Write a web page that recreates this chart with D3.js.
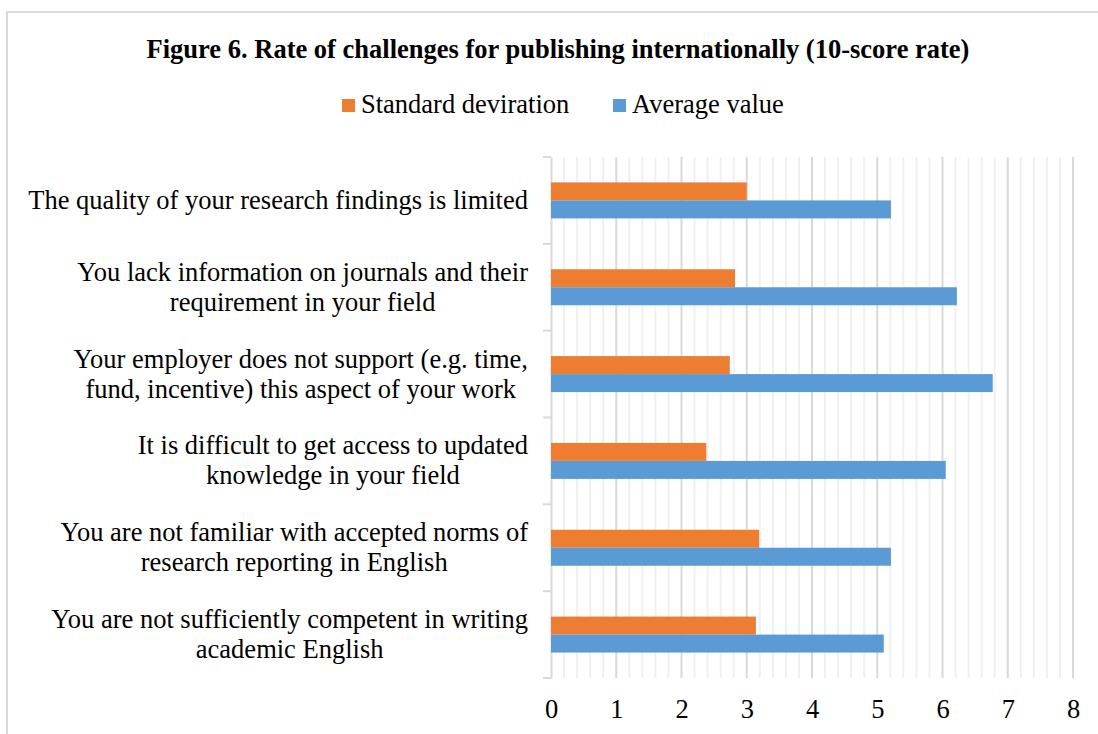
<!DOCTYPE html>
<html>
<head>
<meta charset="utf-8">
<script src="https://cdn.jsdelivr.net/npm/d3@7"></script>
<style>
  html, body { margin: 0; padding: 0; background: #fff; }
  svg { display: block; }
  text { font-family: "Liberation Serif", "Times New Roman", serif; fill: #000; }
</style>
</head>
<body>
<svg id="chart" width="1098" height="734"></svg>
<script>
// ---- Data ----
const categories = [
  ["The quality of your research findings is limited"],
  ["You lack information on journals and their", "requirement in your field"],
  ["Your employer does not support (e.g. time,", "fund, incentive) this aspect of your work"],
  ["It is difficult to get access to updated", "knowledge in your field"],
  ["You are not familiar with accepted norms of", "research reporting in English"],
  ["You are not sufficiently competent in writing", "academic English"]
];
const standardDeviation = [3.00, 2.82, 2.74, 2.38, 3.19, 3.14];
const averageValue = [5.21, 6.22, 6.77, 6.05, 5.21, 5.10];
const seriesNames = ["Standard deviration", "Average value"];
const xTicks = [0, 1, 2, 3, 4, 5, 6, 7, 8];
const titleText = "Figure 6. Rate of challenges for publishing internationally (10-score rate)";

// ---- Layout ----
const svg = d3.select("#chart");
const colors = ["#ED7D31", "#5B9BD5"];
const plot = { left: 551, right: 1073, top: 157, bottom: 678 };
const fs = 26.5;

// Chart frame
svg.append("rect")
  .attr("x", 7).attr("y", 12)
  .attr("width", 1200).attr("height", 800)
  .attr("fill", "none").attr("stroke", "#d9d9d9").attr("stroke-width", 2);

// Title
svg.append("text")
  .attr("x", 558).attr("y", 58)
  .attr("text-anchor", "middle")
  .attr("font-weight", "bold")
  .attr("font-size", fs)
  .text(titleText);

// Scales
const x = d3.scaleLinear().domain([0, 8]).range([plot.left, plot.right]);
const idx = d3.range(categories.length);
const y = d3.scaleBand().domain(idx).range([plot.top, plot.bottom]).padding(0);
const barH = 18;

// Gridlines (minor every 0.2, major every 1)
const minor = d3.range(0, 8.0001, 0.2).filter(v => Math.abs(v - Math.round(v)) > 1e-6);
svg.append("g").selectAll("line").data(minor).join("line")
  .attr("x1", d => x(d)).attr("x2", d => x(d))
  .attr("y1", plot.top).attr("y2", plot.bottom)
  .attr("stroke", "#f0f0f0").attr("stroke-width", 2);
svg.append("g").selectAll("line").data(xTicks.slice(1)).join("line")
  .attr("x1", d => x(d)).attr("x2", d => x(d))
  .attr("y1", plot.top).attr("y2", plot.bottom)
  .attr("stroke", "#d9d9d9").attr("stroke-width", 2);

// Category axis line and ticks
const yAxis = d3.axisLeft(y).tickSize(0).tickFormat("");
const gy = svg.append("g").attr("transform", `translate(${plot.left},0)`).call(yAxis);
gy.select(".domain").attr("stroke", "#d9d9d9").attr("stroke-width", 2);
const boundaries = d3.range(categories.length + 1).map(i => plot.top + i * y.bandwidth());
svg.append("g").selectAll("line").data(boundaries).join("line")
  .attr("x1", plot.left - 8).attr("x2", plot.left)
  .attr("y1", d => d).attr("y2", d => d)
  .attr("stroke", "#d9d9d9").attr("stroke-width", 2);

// Bars
const series = [standardDeviation, averageValue];
series.forEach((vals, s) => {
  svg.append("g").selectAll("rect").data(vals).join("rect")
    .attr("x", x(0))
    .attr("y", (d, i) => y(i) + y.bandwidth() / 2 - barH + s * barH)
    .attr("width", d => x(d) - x(0))
    .attr("height", barH)
    .attr("fill", colors[s]);
});

// X axis labels
const xAxis = d3.axisBottom(x).tickValues(xTicks).tickSize(0).tickFormat(d3.format("d"));
const gx = svg.append("g").attr("transform", `translate(0,${plot.bottom})`).call(xAxis);
gx.select(".domain").remove();
gx.selectAll("text")
  .attr("font-family", "Liberation Serif, Times New Roman, serif")
  .attr("font-size", fs).attr("fill", "#000").attr("dy", 0).attr("y", 40);

// Category labels (center-aligned lines, block right-aligned)
const lineH = 30;
const labelRight = 528;
categories.forEach((lines, i) => {
  const cy = y(i) + y.bandwidth() / 2;
  const g = svg.append("g");
  const texts = lines.map((ln, j) =>
    g.append("text")
      .attr("font-size", fs)
      .attr("y", cy + (j - (lines.length - 1) / 2) * lineH + 8.5)
      .text(ln));
  const widths = texts.map(t => t.node().getComputedTextLength());
  const maxW = d3.max(widths);
  const centerX = labelRight - maxW / 2;
  texts.forEach(t => t.attr("x", centerX).attr("text-anchor", "middle"));
});

// Legend
const legendItems = [
  { name: seriesNames[0], color: colors[0], x: 342 },
  { name: seriesNames[1], color: colors[1], x: 613 }
];
const lg = svg.append("g");
legendItems.forEach(d => {
  lg.append("rect").attr("x", d.x).attr("y", 99).attr("width", 13).attr("height", 13).attr("fill", d.color);
  lg.append("text").attr("x", d.x + 19).attr("y", 113).attr("font-size", fs).text(d.name);
});
</script>
</body>
</html>
